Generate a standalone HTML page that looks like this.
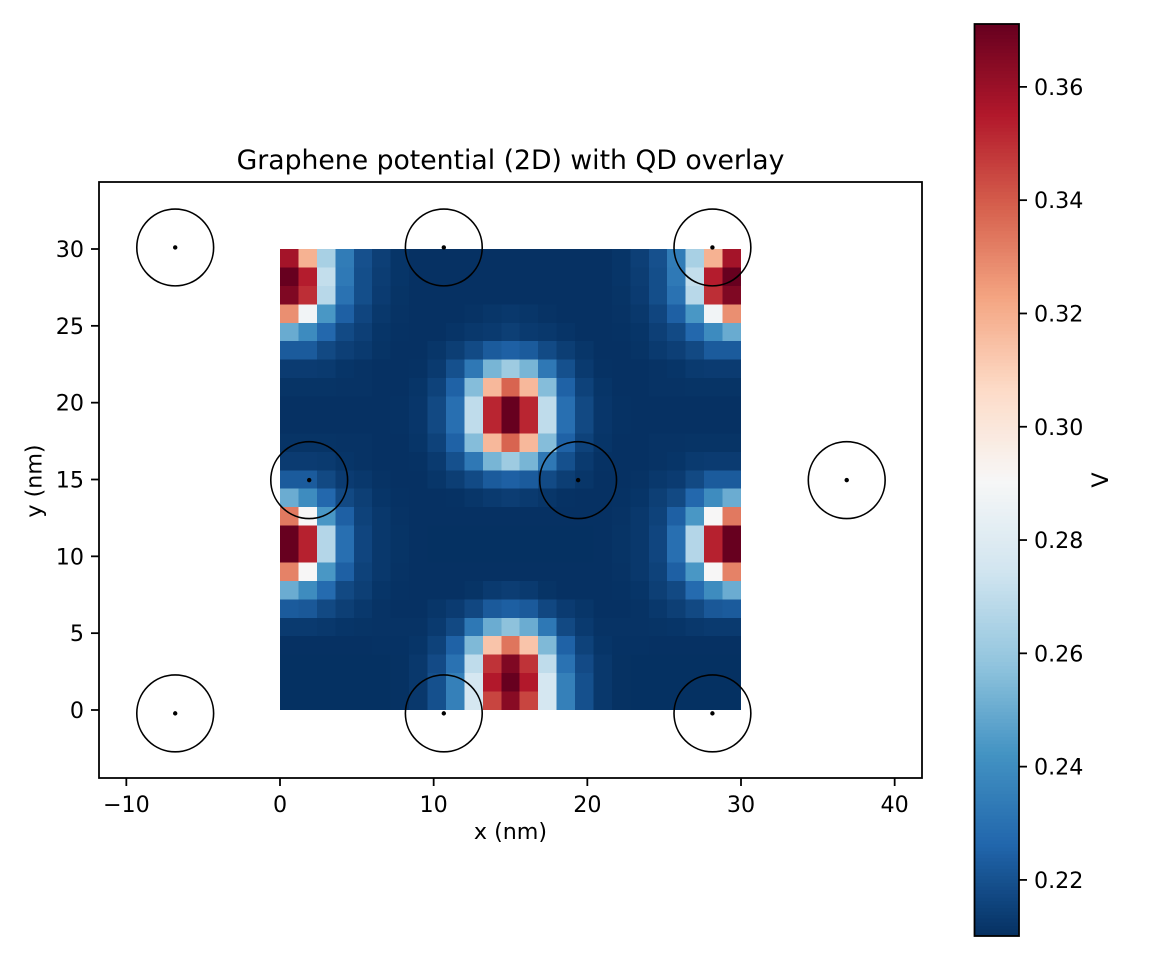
<!DOCTYPE html>
<html>
<head>
<meta charset="utf-8">
<title>Graphene potential (2D) with QD overlay</title>
<style>
html,body{margin:0;padding:0;background:#fff;}
svg{display:block;}
text{font-family:"DejaVu Sans","Liberation Sans",sans-serif;fill:#000;}
</style>
</head>
<body>
<svg id="chart" xmlns="http://www.w3.org/2000/svg" width="1152" height="960" viewBox="0 0 1152 960">
<rect x="0" y="0" width="1152" height="960" fill="#fff"/>
<g id="heatmap" shape-rendering="crispEdges"></g>
<g id="overlay"></g>
<rect x="99" y="182" width="823" height="596" fill="none" stroke="#000" stroke-width="1.78"/>
<g id="xticks"></g>
<g id="yticks"></g>
<text x="510.500" y="169" text-anchor="middle" font-size="26.67">Graphene potential (2D) with QD overlay</text>
<text x="510.500" y="839" text-anchor="middle" font-size="22.2">x (nm)</text>
<text transform="translate(41.500,481) rotate(-90)" text-anchor="middle" font-size="22.2">y (nm)</text>
<g id="colorbar"></g>
<rect x="974.500" y="24" width="44.500" height="912" fill="none" stroke="#000" stroke-width="1.78"/>
<g id="cbticks"></g>
<text transform="translate(1108,480) rotate(-90)" text-anchor="middle" font-size="22.2">V</text>
</svg>
<script>
const xTickValues = [-10, 0, 10, 20, 30, 40];
const yTickValues = [0, 5, 10, 15, 20, 25, 30];
const cbTickValues = [0.22, 0.24, 0.26, 0.28, 0.30, 0.32, 0.34, 0.36];
const qdX = [-6.82, 10.66, 28.14, 1.9, 19.4, 36.88, -6.82, 10.66, 28.14];
const qdY = [-0.22, -0.22, -0.22, 14.96, 14.96, 14.96, 30.1, 30.1, 30.1];
const qdRadius = 2.5;
const vMin = 0.2101;
const vMax = 0.3711;
const extent = 30;
const potential = [
[.358,.319,.264,.234,.2196,.2146,.2115,.2105,.2105,.2105,.2105,.2105,.2105,.2105,.2105,.2105,.2105,.2105,.2115,.2146,.2196,.234,.264,.319,.358],
[.371,.354,.271,.233,.219,.214,.2115,.2105,.2105,.2105,.2105,.2105,.2105,.2105,.2105,.2105,.2105,.2105,.2115,.214,.219,.233,.271,.354,.371],
[.366,.350,.268,.2305,.219,.2135,.2112,.2105,.2105,.2105,.2105,.2105,.2105,.2105,.2105,.2105,.2105,.2105,.2112,.2135,.219,.2305,.268,.350,.366],
[.328,.288,.2435,.2245,.2165,.2125,.211,.2105,.2105,.2105,.211,.2118,.2125,.2118,.211,.2105,.2105,.2105,.211,.2125,.2165,.2245,.2435,.288,.328],
[.250,.2395,.227,.2178,.2146,.2115,.2108,.2105,.2105,.2113,.2125,.213,.2145,.213,.2125,.2113,.2105,.2105,.2108,.2115,.2146,.2178,.227,.2395,.250],
[.2228,.2228,.2175,.2147,.213,.2112,.2105,.2105,.2118,.2142,.2178,.2228,.2245,.2228,.2178,.2142,.2118,.2105,.2105,.2112,.213,.2147,.2175,.2228,.2228],
[.2135,.2135,.213,.2115,.211,.2105,.2105,.2108,.213,.2195,.2326,.2532,.2614,.2532,.2326,.2195,.213,.2108,.2105,.2105,.211,.2115,.213,.2135,.2135],
[.2112,.2112,.2112,.211,.211,.2105,.2105,.2115,.2155,.225,.2558,.317,.338,.317,.2558,.225,.2155,.2115,.2105,.2105,.211,.211,.2112,.2112,.2112],
[.2105,.2105,.2105,.2105,.2105,.2105,.2108,.212,.2175,.2295,.270,.352,.371,.352,.270,.2295,.2175,.212,.2108,.2105,.2105,.2105,.2105,.2105,.2105],
[.2105,.2105,.2105,.2105,.2105,.2105,.2108,.212,.2175,.2295,.270,.352,.371,.352,.270,.2295,.2175,.212,.2108,.2105,.2105,.2105,.2105,.2105,.2105],
[.2112,.2112,.2112,.211,.211,.2105,.2105,.2115,.2155,.225,.2558,.317,.338,.317,.2558,.225,.2155,.2115,.2105,.2105,.211,.211,.2112,.2112,.2112],
[.2135,.2135,.213,.2115,.211,.2105,.2105,.2108,.213,.2195,.2326,.2532,.2614,.2532,.2326,.2195,.213,.2108,.2105,.2105,.211,.2115,.213,.2135,.2135],
[.2228,.2228,.2175,.2135,.2125,.211,.2105,.2105,.2118,.2142,.2178,.2228,.2245,.2228,.2178,.2142,.2118,.2105,.2105,.211,.2125,.2135,.2175,.2228,.2228],
[.2505,.2398,.227,.2175,.2145,.2115,.2108,.2105,.2105,.2108,.2118,.213,.214,.213,.2118,.2108,.2105,.2105,.2108,.2115,.2145,.2175,.227,.2398,.2505],
[.333,.291,.2435,.2245,.2155,.2125,.211,.2105,.2105,.2105,.2105,.2105,.2105,.2105,.2105,.2105,.2105,.2105,.211,.2125,.2155,.2245,.2435,.291,.333],
[.371,.353,.267,.2295,.2165,.2125,.2112,.2105,.2103,.2103,.2103,.2103,.2103,.2103,.2103,.2103,.2103,.2105,.2112,.2125,.2165,.2295,.267,.353,.371],
[.371,.353,.267,.2295,.2165,.2125,.2112,.2105,.2103,.2103,.2103,.2103,.2103,.2103,.2103,.2103,.2103,.2105,.2112,.2125,.2165,.2295,.267,.353,.371],
[.331,.291,.2435,.2245,.2155,.2125,.211,.2105,.2105,.2105,.2105,.2105,.2105,.2105,.2105,.2105,.2105,.2105,.211,.2125,.2155,.2245,.2435,.291,.331],
[.2505,.2398,.228,.2175,.2145,.2115,.2108,.2105,.2105,.2105,.2112,.213,.214,.213,.2112,.2105,.2105,.2105,.2108,.2115,.2145,.2175,.228,.2398,.2505],
[.2228,.222,.2175,.2145,.2125,.211,.2105,.2105,.2118,.2135,.217,.2225,.224,.2225,.217,.2135,.2118,.2105,.2105,.211,.2125,.2145,.2175,.222,.2228],
[.2132,.2132,.2125,.2115,.2112,.211,.211,.211,.213,.2175,.2325,.2505,.2575,.2505,.2325,.2175,.213,.211,.211,.211,.2112,.2115,.2125,.2132,.2132],
[.2105,.2105,.2105,.2105,.2105,.2107,.2107,.2115,.2155,.225,.2545,.3135,.334,.3135,.2545,.225,.2155,.2115,.2107,.2107,.2105,.2105,.2105,.2105,.2105],
[.2103,.2103,.2103,.2103,.2103,.2103,.2106,.2125,.218,.2305,.270,.349,.366,.349,.270,.2305,.218,.2125,.2106,.2103,.2103,.2103,.2103,.2103,.2103],
[.2103,.2103,.2103,.2103,.2103,.2103,.2106,.2125,.2195,.2355,.276,.355,.371,.355,.276,.2355,.2195,.2125,.2106,.2103,.2103,.2103,.2103,.2103,.2103],
[.2103,.2103,.2103,.2103,.2103,.2103,.2106,.2125,.2195,.2355,.276,.345,.364,.345,.276,.2355,.2195,.2125,.2106,.2103,.2103,.2103,.2103,.2103,.2103]
];
const cmapStops = ['#053061','#2166ac','#4393c3','#92c5de','#d1e5f0','#f7f7f7','#fddbc7','#f4a582','#d6604d','#b2182b','#67001f'];

const NS = 'http://www.w3.org/2000/svg';
function sx(v){ return 280 + (v * 461 / 30); }
function sy(v){ return 710 - (v * 461 / 30); }
function cy(v){ return 936 - ((v - vMin) / (vMax - vMin)) * 912; }
function hex(h){ return [parseInt(h.slice(1,3),16),parseInt(h.slice(3,5),16),parseInt(h.slice(5,7),16)]; }
function color(v){
  let t = Math.max(0, Math.min(1, (v - vMin) / (vMax - vMin))) * (cmapStops.length - 1);
  let i = Math.min(Math.floor(t), cmapStops.length - 2);
  let f = t - i;
  let a = hex(cmapStops[i]), b = hex(cmapStops[i + 1]);
  return 'rgb(' + a.map(function(c, k){ return Math.round(c + (b[k] - c) * f); }).join(',') + ')';
}
function make(tag, parent){
  const el = document.createElementNS(NS, tag);
  parent.appendChild(el);
  return el;
}
function setAll(el, o){ for (const k in o) el.setAttribute(k, o[k]); }

const heat = document.getElementById('heatmap');
const nRows = potential.length;
potential.forEach(function(row, r){
  const nCols = row.length;
  row.forEach(function(v, c){
    const el = make('rect', heat);
    
    
    const x0 = sx(c * extent / nCols), x1 = sx((c + 1) * extent / nCols);
    const y0 = sy(extent - r * extent / nRows), y1 = sy(extent - (r + 1) * extent / nRows);
    setAll(el, {x: x0, y: y0, width: x1 - x0, height: y1 - y0, fill: color(v)});
  });
});

const overlay = document.getElementById('overlay');
qdX.forEach(function(x, i){
  const ring = make('circle', overlay);
  
  
  setAll(ring, {cx: sx(x), cy: sy(qdY[i]), r: sx(qdRadius) - sx(0), fill: 'none', stroke: '#000', 'stroke-width': 1.6});
  const dot = make('circle', overlay);
  
  
  setAll(dot, {cx: sx(x), cy: sy(qdY[i]), r: 2.2, fill: '#000'});
});

const xt = document.getElementById('xticks');
xTickValues.forEach(function(v){
  const l = make('line', xt);
  
  
  setAll(l, {x1: sx(v), x2: sx(v), y1: 778, y2: 786, stroke: '#000', 'stroke-width': 1.78});
  const t = make('text', xt);
  
  
  setAll(t, {x: sx(v), y: 812, 'text-anchor': 'middle', 'font-size': 22.2});
  t.textContent = (v < 0 ? '\u2212' + (-v) : String(v));
});

const yt = document.getElementById('yticks');
yTickValues.forEach(function(v){
  const l = make('line', yt);
  
  
  setAll(l, {x1: 91, x2: 99, y1: sy(v), y2: sy(v), stroke: '#000', 'stroke-width': 1.78});
  const t = make('text', yt);
  
  
  setAll(t, {x: 84, y: sy(v) + 8, 'text-anchor': 'end', 'font-size': 22.2});
  t.textContent = String(v);
});

const cb = document.getElementById('colorbar');
cb.setAttribute('shape-rendering', 'crispEdges');
for (let i = 0; i < 256; i++) {
  const lo = vMin + (vMax - vMin) * i / 256;
  const hi = vMin + (vMax - vMin) * (i + 1) / 256;
  const el = make('rect', cb);
  
  
  setAll(el, {x: 974.5, y: cy(hi), width: 44.5, height: cy(lo) - cy(hi) + 0.5, fill: color((lo + hi) / 2)});
}

const cbt = document.getElementById('cbticks');
cbTickValues.forEach(function(v){
  const l = make('line', cbt);
  
  
  setAll(l, {x1: 1019, x2: 1027, y1: cy(v), y2: cy(v), stroke: '#000', 'stroke-width': 1.78});
  const t = make('text', cbt);
  
  
  setAll(t, {x: 1034, y: cy(v) + 8, 'font-size': 22.2});
  t.textContent = v.toFixed(2);
});
</script>
</body>
</html>
